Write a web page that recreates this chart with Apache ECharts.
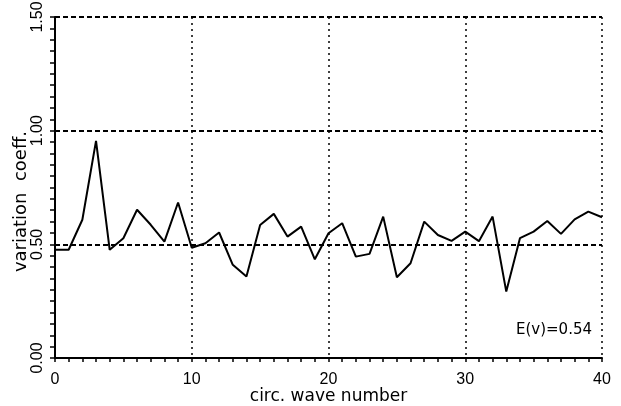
<!DOCTYPE html>
<html>
<head>
<meta charset="utf-8">
<script src="https://cdn.jsdelivr.net/npm/echarts@6/dist/echarts.min.js"></script>
<style>
  html, body { margin: 0; padding: 0; background: #fff; }
  #chart { width: 621px; height: 406px; }
</style>
</head>
<body>
<div id="chart"></div>
<script>
let waveNumbers = [0, 1, 2, 3, 4, 5, 6, 7, 8, 9, 10, 11, 12, 13, 14, 15, 16, 17, 18, 19, 20,
  21, 22, 23, 24, 25, 26, 27, 28, 29, 30, 31, 32, 33, 34, 35, 36, 37, 38, 39, 40];
let variationCoeff = [0.476, 0.476, 0.608, 0.955, 0.476, 0.527, 0.652, 0.586, 0.512, 0.684,
  0.485, 0.505, 0.552, 0.41, 0.358, 0.585, 0.634, 0.534, 0.578, 0.434,
  0.549, 0.593, 0.446, 0.458, 0.622, 0.355, 0.417, 0.6, 0.541, 0.515,
  0.556, 0.514, 0.622, 0.292, 0.527, 0.556, 0.603, 0.546, 0.61, 0.644, 0.619];
let yTicks = ["0.00", "0.50", "1.00", "1.50"];
let meanLabel = "E(v)=0.54";

let dom = document.getElementById("chart");
let myChart = echarts.init(dom, null, { renderer: "canvas" });

let font = "Liberation Sans";
let wideFont = "DejaVu Sans";

let option = {
  animation: false,
  backgroundColor: "#fff",
  grid: { left: 55, right: 19, top: 17, bottom: 48, outerBoundsMode: "none", containLabel: false },
  xAxis: {
    type: "value",
    min: 0,
    max: 40,
    interval: 10,
    name: "circ. wave number",
    nameLocation: "middle",
    nameGap: 30,
    nameMoveOverlap: false,
    nameTextStyle: { color: "#000", fontFamily: wideFont, fontSize: 17 },
    axisLine: { lineStyle: { color: "#000", width: 2 } },
    axisTick: { show: true, length: 4, lineStyle: { color: "#000", width: 1.5 } },
    minorTick: { show: true, splitNumber: 10, length: 4, lineStyle: { color: "#000", width: 1.5 } },
    axisLabel: { color: "#000", fontFamily: font, fontSize: 16, margin: 14 },
    splitLine: { show: true, lineStyle: { color: "#000", width: 1.5, type: [2, 4] } }
  },
  yAxis: {
    type: "value",
    min: 0,
    max: 1.5,
    interval: 0.5,
    name: "variation  coeff.",
    nameLocation: "middle",
    nameGap: 25,
    nameMoveOverlap: false,
    nameTextStyle: { color: "#000", fontFamily: wideFont, fontSize: 18, padding: [0, 28, 0, 0] },
    axisLine: { show: true, lineStyle: { color: "#000", width: 2 } },
    axisTick: { show: true, length: 5, lineStyle: { color: "#000", width: 1.5 } },
    minorTick: { show: true, splitNumber: 10, length: 5, lineStyle: { color: "#000", width: 1.5 } },
    axisLabel: {
      color: "#000",
      fontFamily: font,
      fontSize: 16,
      rotate: 90,
      margin: 9,
      formatter: function (v) {
        return yTicks[Math.round(v / 0.5)];
      }
    },
    splitLine: { show: true, lineStyle: { color: "#000", width: 2, type: [5, 3] } }
  },
  graphic: [
    {
      type: "text",
      right: 29,
      top: 323,
      style: { text: meanLabel, fill: "#000", font: "15px " + wideFont }
    }
  ],
  series: [
    {
      type: "line",
      data: waveNumbers.map(function (x, i) { return [x, variationCoeff[i]]; }),
      showSymbol: false,
      lineStyle: { color: "#000", width: 2 }
    }
  ]
};

myChart.setOption(option);
window.addEventListener("resize", myChart.resize);
</script>
</body>
</html>
